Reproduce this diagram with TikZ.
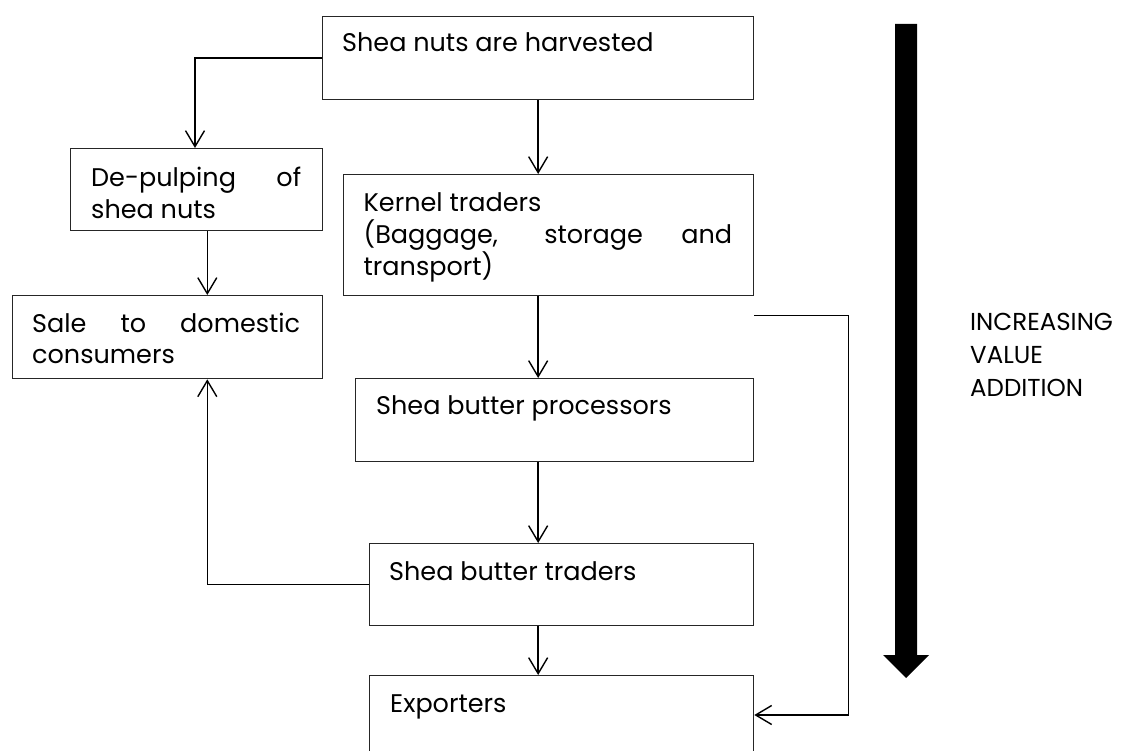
\documentclass[tikz,border=0pt]{standalone}
\usepackage{fontspec}
\setmainfont{Poppins}
\usetikzlibrary{arrows.meta,calc}
\begin{document}
\begin{tikzpicture}[x=1pt,y=-1pt,
  box/.style={draw=black!85, line width=1.3pt, rectangle, anchor=north west, inner sep=0pt},
  txt/.style={anchor=base west, inner sep=0pt, font=\fontsize{25.5}{31.5}\selectfont},
  conn/.style={line width=1.4pt, -{Straight Barb[length=16pt,width=19pt,line width=1.4pt]}}]
\useasboundingbox (0,0) rectangle (1131,751);
% boxes
\node[box, minimum width=431, minimum height=83] (h) at (322,16) {};
\node[box, minimum width=252, minimum height=82] (d) at (70,148) {};
\node[box, minimum width=410, minimum height=121] (k) at (343,174) {};
\node[box, minimum width=310.4, minimum height=83] (s) at (11.6,295) {};
\node[box, minimum width=398, minimum height=83] (p) at (355,378) {};
\node[box, minimum width=384, minimum height=82] (t) at (369,543) {};
\node[box, minimum width=384, minimum height=110] (e) at (369,675) {};
% texts
\node[txt] (ht) at ($(h.north west)+(20,36)$) {Shea nuts are harvested};
\node[txt] (dt) at ($(d.north west)+(21,39)$) {\parbox[t]{210pt}{\makebox[\linewidth][s]{De-pulping of}\\shea nuts}};
\node[txt] (kt) at ($(k.north west)+(20.5,38)$) {\parbox[t]{368.5pt}{Kernel traders\\\makebox[\linewidth][s]{(Baggage, storage and}\\transport)}};
\node[txt] (st) at ($(s.north west)+(20.4,37)$) {\parbox[t]{268pt}{\makebox[\linewidth][s]{Sale to domestic}\\consumers}};
\node[txt] (pt) at ($(p.north west)+(21,36)$) {Shea butter processors};
\node[txt] (tt) at ($(t.north west)+(20,37)$) {Shea butter traders};
\node[txt] (et) at ($(e.north west)+(21,37)$) {Exporters};
\node[anchor=base west, inner sep=0pt, font=\fontsize{24.5}{33}\selectfont] (lab) at (970,330)
  {\begin{tabular}[t]{@{}l@{}}INCREASING\\VALUE\\ADDITION\end{tabular}};
% big arrow
\fill[black] (895,24) -- (917,24) -- (917,655) -- (929,655) -- (906,678) -- (883,655) -- (895,655) -- cycle;
% connectors
\draw[conn] (h.west) -| ($(d.north west)+(125,0)$);
\draw[conn] (h.south) -- (h.south |- k.north);
\draw[conn] ($(d.south east)+(-116,0)$) -- ($(s.north east)+(-116,0)$);
\draw[conn] (k.south -| h.south) -- (p.north -| h.south);
\draw[conn] (p.south -| h.south) -- (t.north -| h.south);
\draw[conn] (t.south -| h.south) -- (e.north -| h.south);
\draw[conn] (t.west) -| ($(s.south east)+(-116,0)$);
\coordinate (kc) at ($(k.south east)+(0,19)$);
\draw[conn] (kc) -- ++(94,0) |- ($(e.north east)+(0,40)$);
\end{tikzpicture}
\end{document}
